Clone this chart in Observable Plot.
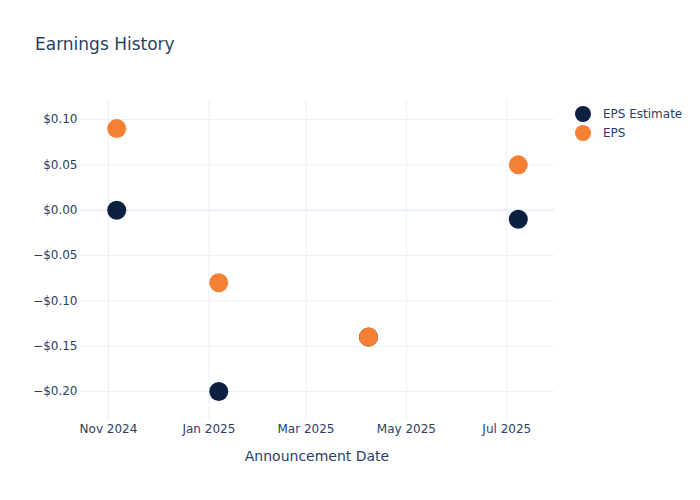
<!DOCTYPE html>
<html><head><meta charset="utf-8">
<script src="https://cdn.jsdelivr.net/npm/d3@7"></script>
<script src="https://cdn.jsdelivr.net/npm/@observablehq/plot@0.6"></script>
<style>body{margin:0;background:#fff}</style>
</head><body><div id="chart"></div>
<script>
const dates = ["2024-11-06","2025-01-07","2025-04-08","2025-07-08"];
const epsEstimate = [0.00,-0.20,-0.14,-0.01];
const eps = [0.09,-0.08,-0.14,0.05];
const series = ["EPS Estimate","EPS"];
const colors = ["#0b1f41","#f57f33"];
const xTicks = ["2024-11-01","2025-01-01","2025-03-01","2025-05-01","2025-07-01"];
const yTicks = [0.10,0.05,0,-0.05,-0.10,-0.15,-0.20];
const title = "Earnings History";
const xLabel = "Announcement Date";

const rows = [];
dates.forEach((d,i)=>rows.push({date:new Date(d),value:epsEstimate[i],series:series[0]}));
dates.forEach((d,i)=>rows.push({date:new Date(d),value:eps[i],series:series[1]}));
const xTickDates = xTicks.map(d=>new Date(d));
const font = "DejaVu Sans, Verdana, sans-serif";
const ink = "#2a3f5f";

const plot = Plot.plot({
  width:700, height:500,
  marginLeft:80, marginRight:146, marginTop:100, marginBottom:80,
  style:{fontFamily:font, fontSize:"12px", color:ink, background:"#fff"},
  x:{type:"utc", domain:[new Date("2024-10-15"), new Date("2025-07-30")]},
  y:{domain:[-0.232,0.121]},
  color:{domain:series, range:colors},
  marks:[
    Plot.gridX(xTickDates,{stroke:"#ebf0f8", strokeOpacity:1}),
    Plot.gridY(yTicks,{stroke:"#ebf0f8", strokeOpacity:1}),
    Plot.ruleY([0],{stroke:"#ebf0f8", strokeWidth:2}),
    Plot.axisX(xTickDates,{tickSize:0, tickPadding:4, tickFormat:d3.utcFormat("%b %Y"), label:null, fill:ink}),
    Plot.axisY(yTicks,{tickSize:0, tickPadding:3, tickFormat:d3.format("$.2f"), label:null, fill:ink}),
    Plot.dot(rows,{x:"date", y:"value", fill:"series", r:9.5})
  ]
});
document.getElementById("chart").appendChild(plot);
const svg = d3.select(plot);
svg.append("text").attr("x",35).attr("y",50).attr("text-anchor","start").attr("fill",ink).attr("font-size",17).attr("font-family",font).text(title);
svg.append("text").attr("x",317).attr("y",461).attr("text-anchor","middle").attr("fill",ink).attr("font-size",14).attr("font-family",font).text(xLabel);
const lg = svg.append("g");
series.forEach((s,i)=>{
  lg.append("circle").attr("cx",583).attr("cy",114+i*19).attr("r",8).attr("fill",colors[i]);
  lg.append("text").attr("x",603).attr("y",118+i*19).attr("text-anchor","start").attr("fill",ink).attr("font-size",12).attr("font-family",font).text(s);
});
</script>
</body></html>
